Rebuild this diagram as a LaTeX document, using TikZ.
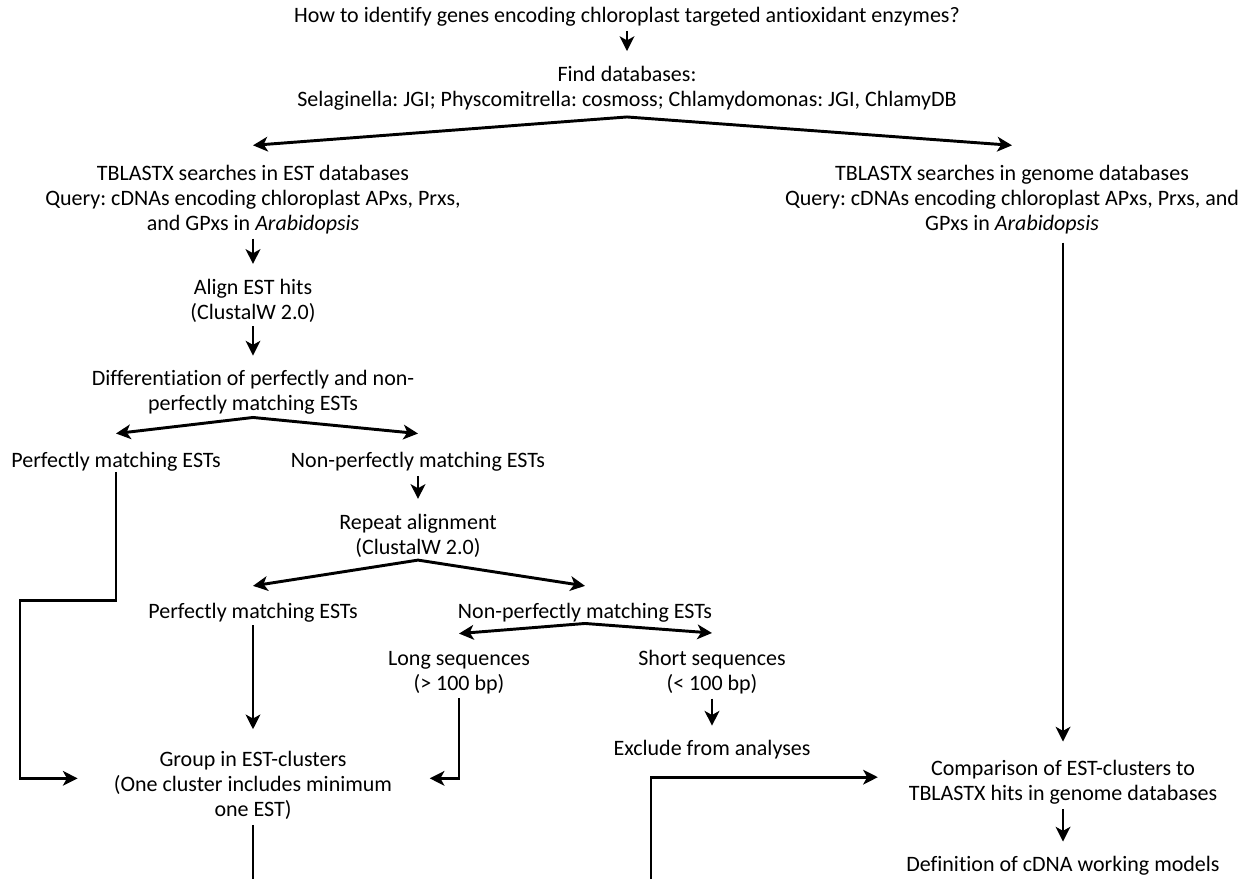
\documentclass[tikz,border=0pt]{standalone}
\usepackage{fontspec}
\setmainfont{Carlito}[Ligatures=NoCommon]
\usepackage{tikz}
\usetikzlibrary{arrows.meta}
\frenchspacing

\begin{document}
\begin{tikzpicture}[x=0.75pt, y=-0.75pt,
    txt/.style={align=center, inner sep=0pt, font=\fontsize{16.5}{18.75}\selectfont},
    conn/.style={line width=2.2pt, -{Stealth[length=11pt, width=11pt, inset=3pt]}},
    fork/.style={line width=2.2pt, {Stealth[length=11pt, width=11pt, inset=3pt]}-{Stealth[length=11pt, width=11pt, inset=3pt]}},
    plain/.style={line width=2.2pt},
    drop/.style={conn, shorten <=3pt, shorten >=11pt}]
    \pgfmathsetmacro{\colL}{253}
    \pgfmathsetmacro{\colR}{1063}
    \useasboundingbox (0,0) rectangle (1253,879);

    % Question and databases
    \node[txt] (question) at ({627}, {17}) {How to identify genes encoding chloroplast targeted antioxidant enzymes?};
    \node[txt] (databases) at ({627}, {88}) {Find databases:\\Selaginella: JGI; Physcomitrella: cosmoss; Chlamydomonas: JGI, ChlamyDB};

    % Searches
    \node[txt] (estsearch) at ({\colL}, {200}) {TBLASTX searches in EST databases\\Query: cDNAs encoding chloroplast APxs, Prxs,\\and GPxs in \textit{Arabidopsis}};
    \node[txt] (genomesearch) at ({1012}, {200}) {TBLASTX searches in genome databases\\Query: cDNAs encoding chloroplast APxs, Prxs, and\\GPxs in \textit{Arabidopsis}};

    % EST branch
    \node[txt] (align) at ({\colL}, {300.5}) {Align EST hits\\(ClustalW 2.0)};
    \node[txt] (differ) at ({\colL}, {392.5}) {Differentiation of perfectly and non-\\perfectly matching ESTs};
    \node[txt] (perfect) at ({116}, {462}) {Perfectly matching ESTs};
    \node[txt] (nonperfect) at ({418}, {462}) {Non-perfectly matching ESTs};
    \node[txt] (realign) at ({418}, {535.5}) {Repeat alignment\\(ClustalW 2.0)};
    \node[txt] (perfectb) at ({\colL}, {613}) {Perfectly matching ESTs};
    \node[txt] (nonperfectb) at ({585}, {613}) {Non-perfectly matching ESTs};
    \node[txt] (longseq) at ({459}, {672.5}) {Long sequences\\(> 100 bp)};
    \node[txt] (shortseq) at ({712}, {672.5}) {Short sequences\\(< 100 bp)};
    \node[txt] (exclude) at ({712}, {750}) {Exclude from analyses};
    \node[txt] (group) at ({\colL}, {785}) {Group in EST-clusters\\(One cluster includes minimum\\one EST)};

    % Comparison
    \node[txt] (compare) at ({\colR}, {782.5}) {Comparison of EST-clusters to\\TBLASTX hits in genome databases};
    \node[txt] (define) at ({\colR}, {866}) {Definition of cDNA working models};

    % Cut ends at the lower edge
    \coordinate (cutL) at ({\colL}, {879});
    \coordinate (cutM) at ({651}, {879});

    % Connectors
    \draw[drop] (question.south) to (databases.north);
    \coordinate (fork0) at ([yshift=-5pt]databases.south);
    \draw[fork] ([yshift=15pt]estsearch.north) -- (fork0) -- ([yshift=15pt]genomesearch.north);
    \draw[drop] (estsearch.south) to (align.north);
    \draw[drop] (align.south) to (differ.north);
    \coordinate (fork1) at ([yshift=-2pt]differ.south);
    \draw[fork] ([yshift=14pt]perfect.north) -- (fork1) -- ([yshift=14pt]nonperfect.north);
    \draw[drop] (nonperfect.south) to (realign.north);
    \coordinate (fork2) at ([yshift=-2pt]realign.south);
    \draw[fork] ([yshift=13pt]perfectb.north) -- (fork2) -- ([yshift=13pt]nonperfectb.north);
    \coordinate (fork3) at ([yshift=-0.5pt]nonperfectb.south);
    \draw[fork] ([yshift=13pt]longseq.north) -- (fork3) -- ([yshift=13pt]shortseq.north);
    \draw[drop] (shortseq.south) to (exclude.north);
    \draw[conn] (perfect.south) -- ++(0,129) -- ++(-96,0) |- ([xshift=-27pt, yshift=5pt]group.west);
    \draw[conn, shorten <=2pt, shorten >=16pt] (perfectb.south) to (group.north);
    \draw[conn] ([yshift=-3pt]longseq.south) |- ([xshift=28pt, yshift=5pt]group.east);
    \draw[plain] ([yshift=-4pt]group.south) -- (cutL);
    \draw[conn] (cutM) |- ([xshift=-23pt, yshift=4pt]compare.west);
    \draw[conn, shorten <=6pt, shorten >=14pt] (genomesearch.south -| compare.north) to (compare.north);
    \draw[drop] (compare.south) to (define.north);
\end{tikzpicture}
\end{document}
